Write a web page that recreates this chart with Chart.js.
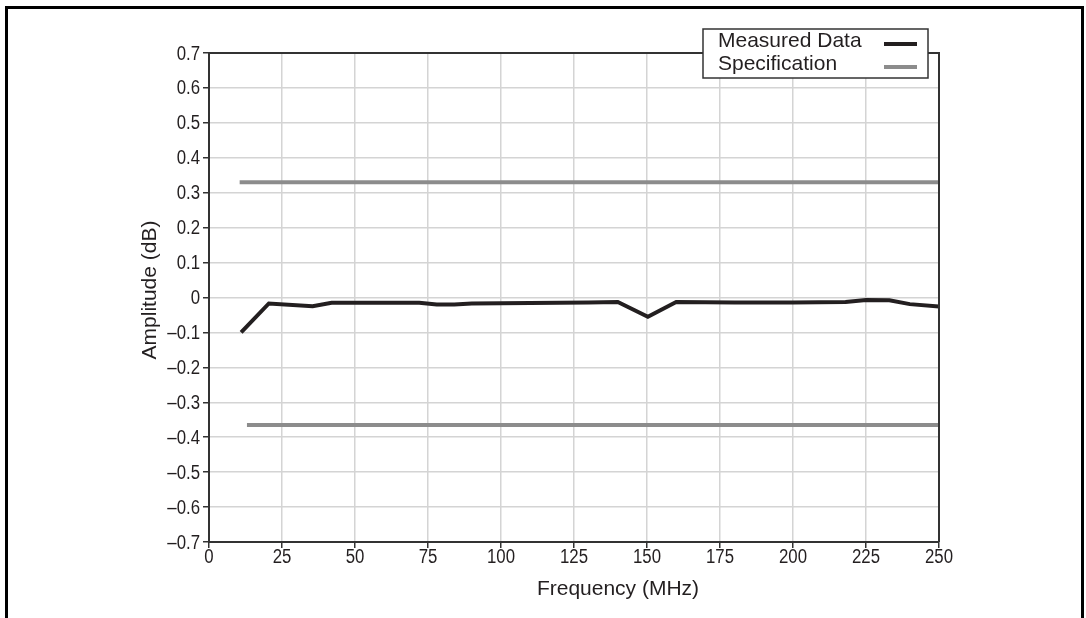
<!DOCTYPE html>
<html>
<head>
<meta charset="utf-8">
<script src="https://cdn.jsdelivr.net/npm/chart.js@4.4.1/dist/chart.umd.min.js"></script>
<style>
  html, body { margin: 0; padding: 0; background: #fff; }
  #wrap { width: 1086px; height: 618px; position: relative; }
</style>
</head>
<body>
<div id="wrap"><canvas id="c" width="1086" height="618"></canvas></div>
<script>
// ---- data ----
const measuredFreq = [11, 20.5, 35.5, 42, 55, 72, 78, 84, 90, 110, 130, 140, 150.3, 160, 180, 200, 218, 225, 233, 240, 250];
const measuredAmp  = [-0.100, -0.017, -0.025, -0.015, -0.015, -0.015, -0.020, -0.020, -0.017, -0.016, -0.014, -0.013, -0.055, -0.013, -0.014, -0.014, -0.013, -0.007, -0.008, -0.019, -0.026];
const specUpperFreq = [10.5, 250];
const specUpperAmp  = [0.33, 0.33];
const specLowerFreq = [13, 250];
const specLowerAmp  = [-0.365, -0.365];
const xTicks = [0, 25, 50, 75, 100, 125, 150, 175, 200, 225, 250];
const yTicks = [0.7, 0.6, 0.5, 0.4, 0.3, 0.2, 0.1, 0, -0.1, -0.2, -0.3, -0.4, -0.5, -0.6, -0.7];
const legendLabels = ['Measured Data', 'Specification'];
const xTitle = 'Frequency (MHz)';
const yTitle = 'Amplitude (dB)';

const DATA_COLOR = '#231f20';
const SPEC_COLOR = '#8c8c8c';
const FONT = "'Liberation Sans', Arial, sans-serif";

const pts = (xs, ys) => xs.map((x, i) => ({ x: x, y: ys[i] }));

const fmt = v => {
  if (Math.abs(v) < 1e-9) return '0';
  return v.toFixed(1).replace('-', '\u2013');
};

// condensed text helper
function condText(ctx, text, x, y, align, sx) {
  ctx.save();
  ctx.translate(x, y);
  ctx.scale(sx, 1);
  ctx.textAlign = align;
  ctx.fillText(text, 0, 0);
  ctx.restore();
}

const framePlugin = {
  id: 'frames',
  afterDraw(chart) {
    const ctx = chart.ctx;
    const a = chart.chartArea;
    const xs = chart.scales.x, ys = chart.scales.y;
    ctx.save();
    // plot frame (top and right)
    ctx.strokeStyle = '#333';
    ctx.lineWidth = 2;
    ctx.beginPath();
    ctx.moveTo(a.left, a.top);
    ctx.lineTo(a.right, a.top);
    ctx.lineTo(a.right, a.bottom);
    ctx.stroke();

    // tick labels (condensed)
    ctx.fillStyle = '#231f20';
    ctx.font = '20px ' + FONT;
    ctx.textBaseline = 'middle';
    yTicks.forEach(v => condText(ctx, fmt(v), a.left - 9, ys.getPixelForValue(v) + 1, 'right', 0.84));
    xTicks.forEach(v => condText(ctx, String(v), xs.getPixelForValue(v), a.bottom + 15, 'center', 0.84));

    // axis titles
    ctx.font = '21px ' + FONT;
    ctx.textAlign = 'center';
    ctx.fillText(xTitle, 618, 589);
    ctx.save();
    ctx.translate(150, 290);
    ctx.rotate(-Math.PI / 2);
    ctx.fillText(yTitle, 0, 0);
    ctx.restore();

    // outer figure frame (no bottom)
    ctx.strokeStyle = '#000';
    ctx.lineWidth = 3;
    ctx.beginPath();
    ctx.moveTo(6.5, 618);
    ctx.lineTo(6.5, 7.5);
    ctx.lineTo(1082.5, 7.5);
    ctx.lineTo(1082.5, 618);
    ctx.stroke();

    // legend
    const lx = 703, ly = 29, lw = 225, lh = 49;
    ctx.fillStyle = '#fff';
    ctx.fillRect(lx, ly, lw, lh);
    ctx.strokeStyle = '#333';
    ctx.lineWidth = 1.5;
    ctx.strokeRect(lx, ly, lw, lh);
    ctx.font = '21px ' + FONT;
    ctx.fillStyle = '#231f20';
    ctx.textBaseline = 'middle';
    ctx.textAlign = 'left';
    const rows = [[legendLabels[0], DATA_COLOR, 41], [legendLabels[1], SPEC_COLOR, 64]];
    rows.forEach(r => {
      ctx.fillText(r[0], 718, r[2]);
      ctx.strokeStyle = r[1];
      ctx.lineWidth = 4;
      ctx.beginPath();
      ctx.moveTo(884, r[2] + 3);
      ctx.lineTo(917, r[2] + 3);
      ctx.stroke();
    });
    ctx.restore();
  }
};

new Chart(document.getElementById('c'), {
  type: 'line',
  data: {
    datasets: [
      { label: 'Specification upper', data: pts(specUpperFreq, specUpperAmp), borderColor: SPEC_COLOR, borderWidth: 4, pointRadius: 0, tension: 0 },
      { label: 'Specification lower', data: pts(specLowerFreq, specLowerAmp), borderColor: SPEC_COLOR, borderWidth: 4, pointRadius: 0, tension: 0 },
      { label: 'Measured Data', data: pts(measuredFreq, measuredAmp), borderColor: DATA_COLOR, borderWidth: 4, pointRadius: 0, tension: 0, borderJoinStyle: 'miter' }
    ]
  },
  options: {
    responsive: false,
    animation: false,
    devicePixelRatio: 1,
    layout: { padding: { left: 138, top: 53, right: 147, bottom: 18 } },
    plugins: { legend: { display: false }, tooltip: { enabled: false } },
    scales: {
      x: {
        type: 'linear', min: 0, max: 250,
        afterBuildTicks: s => { s.ticks = xTicks.map(v => ({ value: v })); },
        afterFit: s => { s.height = 58; },
        grid: { color: '#d4d4d4', lineWidth: 1.5, tickColor: '#333', tickLength: 6, tickWidth: 1.5 },
        border: { color: '#333', width: 2 },
        ticks: { display: false, autoSkip: false },
        title: { display: false }
      },
      y: {
        type: 'linear', min: -0.7, max: 0.7,
        afterBuildTicks: s => { s.ticks = yTicks.map(v => ({ value: v })); },
        afterFit: s => { s.width = 71; },
        grid: { color: '#d4d4d4', lineWidth: 1.5, tickColor: '#333', tickLength: 6, tickWidth: 1.5 },
        border: { color: '#333', width: 2 },
        ticks: { display: false, autoSkip: false },
        title: { display: false }
      }
    }
  },
  plugins: [framePlugin]
});
</script>
</body>
</html>
